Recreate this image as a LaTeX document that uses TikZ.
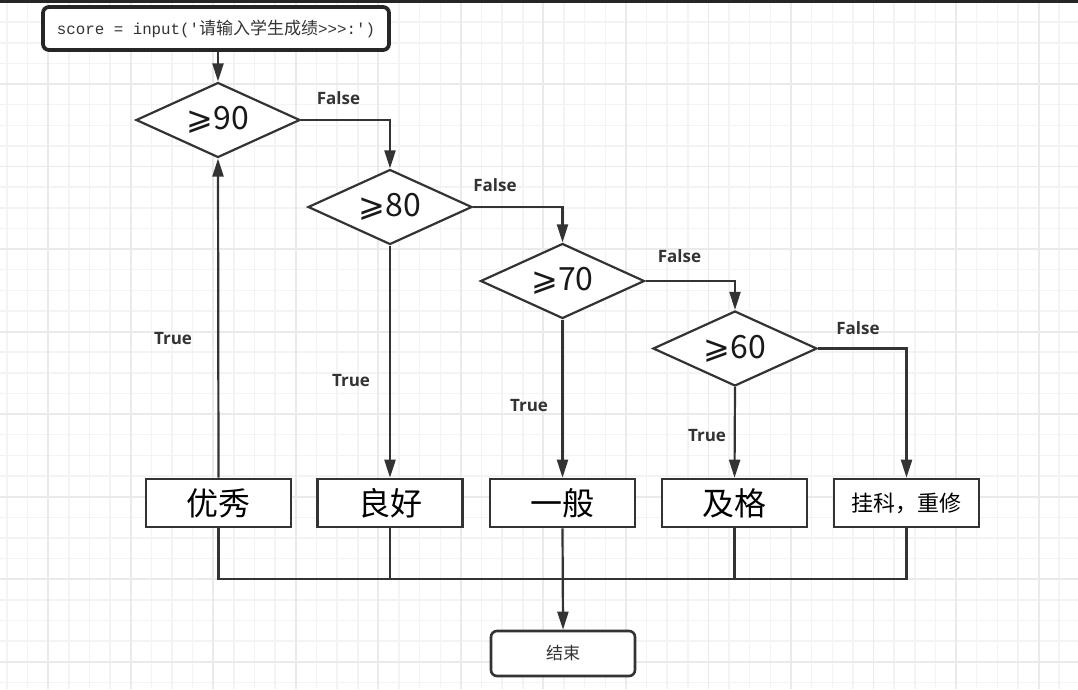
\documentclass[tikz,border=0pt]{standalone}
\usepackage{fontspec}
\setmonofont{Liberation Mono}
\newfontfamily\cjk{Noto Sans CJK SC}
\newfontfamily\dv{DejaVu Sans}
\newfontfamily\lab{Open Sans}
\usetikzlibrary{shapes.geometric,arrows.meta}
\definecolor{ln}{HTML}{333333}
\definecolor{gmin}{HTML}{F3F3F3}
\definecolor{gmaj}{HTML}{EAEAEA}
\tikzset{
  conn/.style={draw=ln,line width=2.2pt},
  arr/.style={conn,-{Triangle[length=18pt,width=11pt]}},
  dec/.style={diamond,draw=ln,line width=2.2pt,fill=white,minimum width=164pt,minimum height=75pt,inner sep=0pt,aspect=2.2,text=black!90,font=\fontsize{32}{32}\selectfont},
  res/.style={rectangle,draw=ln,line width=2.6pt,fill=white,minimum width=145pt,minimum height=48pt,inner sep=0pt,text=black,font=\cjk\fontsize{32}{32}\selectfont},
  lbl/.style={text=ln,inner sep=0pt,font=\lab\bfseries\fontsize{17}{17}\selectfont},
  gminor/.style={draw=gmin,line width=1.5pt},
  gmajor/.style={draw=gmaj,line width=1.9pt},
}
\begin{document}
\begin{tikzpicture}[x=1pt,y=-1pt]
\useasboundingbox (0,0) rectangle (1078,689);
\fill[white] (0,0) rectangle (1078,689);
% grid
\foreach \k in {0,...,51}{\pgfmathsetmacro\xx{7.04+20.63*\k}\draw[gminor] (\xx,0) -- (\xx,689);}
\foreach \k in {0,...,33}{\pgfmathsetmacro\yy{1.5+20.63*\k}\draw[gminor] (0,\yy) -- (1078,\yy);}
\foreach \k in {2,6,...,50}{\pgfmathsetmacro\xx{7.04+20.63*\k}\draw[gmajor] (\xx,0) -- (\xx,689);}
\foreach \k in {0,4,...,32}{\pgfmathsetmacro\yy{1.5+20.63*\k}\draw[gmajor] (0,\yy) -- (1078,\yy);}
\fill[black!85] (0,0) rectangle (1078,3);

% nodes
\node[rectangle,rounded corners=6pt,draw=black!85,line width=3.8pt,fill=white,minimum width=346pt,minimum height=43pt,inner sep=0pt,text=ln] (start) at (216,28.5)
  {{\ttfamily\fontsize{15.8}{16}\selectfont score = input('}{\cjk\fontsize{17}{17}\selectfont 请输入学生成绩}{\ttfamily\fontsize{15.8}{16}\selectfont >>>:')}};

\node[dec] (d90) at (218,120) {{\dv ⩾}{\cjk 90}};
\node[dec] (d80) at (390,207) {{\dv ⩾}{\cjk 80}};
\node[dec] (d70) at (562.5,281) {{\dv ⩾}{\cjk 70}};
\node[dec] (d60) at (735,348.5) {{\dv ⩾}{\cjk 60}};

\node[res] (b1) at (218.5,503) {优秀};
\node[res] (b2) at (390,503) {良好};
\node[res] (b3) at (562.5,503) {一般};
\node[res] (b4) at (734.5,503) {及格};
\node[res,font=\cjk\fontsize{22}{22}\selectfont] (b5) at (906.5,503) {挂科，重修};

\node[rectangle,rounded corners=6pt,draw=ln,line width=2.6pt,fill=white,minimum width=144pt,minimum height=45pt,inner sep=0pt,text=ln,font=\cjk\fontsize{17}{17}\selectfont] (end) at (563,653.5) {结束};

% connectors
\draw[arr] (d90.north |- start.south) -- (d90.north);
\draw[arr] (d90.east) -| (d80.north);
\draw[arr] (d80.east) -| (d70.north);
\draw[arr] (d70.east) -| (d60.north);
\draw[arr] (d60.east) -| (b5.north);
\draw[arr] (b1.north) -- (d90.south);
\draw[arr] (d80.south) -- (b2.north);
\draw[arr] (d70.south) -- (b3.north);
\draw[arr] (d60.south) -- (b4.north);

\coordinate (jn) at (0,579);
\draw[conn] (b1.south) |- (jn -| b5.south) -- (b5.south);
\draw[conn] (b2.south) -- (b2.south |- jn);
\draw[conn] (b4.south) -- (b4.south |- jn);
\draw[arr] (b3.south) -- (end.north);

% labels
\node[lbl] (f1) at (338.5,98.5) {False};
\node[lbl] (f2) at (495,185.5) {False};
\node[lbl] (f3) at (679.5,256.5) {False};
\node[lbl] (f4) at (858,328) {False};
\node[lbl] (t1) at (173,339) {True};
\node[lbl] (t2) at (351,381) {True};
\node[lbl] (t3) at (529,406) {True};
\node[lbl] (t4) at (707,435.5) {True};
\end{tikzpicture}
\end{document}
